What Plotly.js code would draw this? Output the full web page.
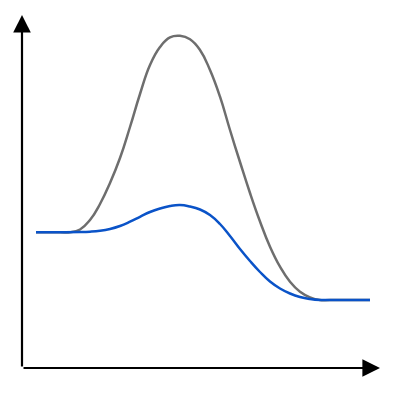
<!DOCTYPE html>
<html>
<head>
<meta charset="utf-8">
<script src="https://cdn.plot.ly/plotly-3.0.1.min.js"></script>
<style>
  html, body { margin: 0; padding: 0; background: #fff; }
  #chart { width: 400px; height: 400px; }
</style>
</head>
<body>
<div id="chart"></div>
<script>
// reaction progress (arbitrary units) and energy (arbitrary units)
const uncatX = [14, 38, 48, 58, 68, 78, 88, 98, 108, 118, 128, 138, 148, 158, 168,
                178, 188, 198, 208, 218, 228, 238, 248, 258, 268, 278, 288, 298, 308, 348];
const uncatY = [135.7, 135.7, 135.7, 138.5, 148, 164, 185, 210, 241, 274, 303, 321, 330.7, 332.2, 328.7,
                318, 298, 271.3, 238, 206, 175, 146.5, 121.3, 101.3, 86.3, 76.3, 70.7, 68, 68, 68];

const catX = [14, 38, 58, 68, 78, 88, 98, 108, 118, 128, 138, 148, 158, 168, 178,
              188, 198, 208, 218, 228, 238, 248, 258, 268, 278, 288, 298, 308, 348];
const catY = [135.7, 135.7, 135.9, 136.3, 137.2, 139, 142, 146.3, 151.2, 156, 159.5, 162, 163, 161.5, 158.5,
              153, 144, 132, 119, 107, 96, 86.5, 79.5, 74.5, 71, 69, 68, 68, 68];

const traces = [
    {
        type: 'scatter', mode: 'lines', x: uncatX, y: uncatY,
        line: { color: '#6e6e6e', width: 2.5, shape: 'spline', smoothing: 1.3 },
        hoverinfo: 'skip'
    },
    {
        type: 'scatter', mode: 'lines', x: catX, y: catY,
        line: { color: '#0a53c8', width: 2.5, shape: 'spline', smoothing: 1.3 },
        hoverinfo: 'skip'
    }
];

const axisArrow = (x, y, ax, ay) => ({
    xref: 'paper', yref: 'paper', x, y, ax, ay,
    text: '', showarrow: true,
    arrowhead: 2, arrowsize: 1.6, arrowwidth: 2.2, arrowcolor: '#000'
});

const layout = {
    width: 400,
    height: 400,
    margin: { l: 22, r: 20, t: 15, b: 32, pad: 0 },
    paper_bgcolor: '#fff',
    plot_bgcolor: '#fff',
    showlegend: false,
    xaxis: { range: [0, 358], visible: false, fixedrange: true },
    yaxis: { range: [0, 353], visible: false, fixedrange: true },
    annotations: [
        axisArrow(0, 1, 0, 353),
        axisArrow(1, 0, -358, 0)
    ]
};

Plotly.newPlot('chart', traces, layout, { displayModeBar: false, staticPlot: true });
</script>
</body>
</html>
